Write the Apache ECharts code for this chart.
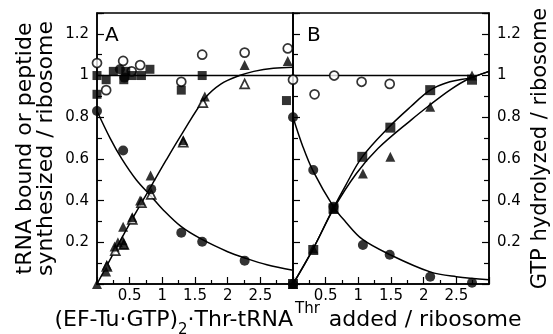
<!DOCTYPE html>
<html>
<head>
<meta charset="utf-8" />
<title>EF-Tu·GTP titration</title>
<script src="https://cdn.jsdelivr.net/npm/echarts@6/dist/echarts.min.js"></script>
<style>
html,body{margin:0;padding:0;background:#fff;}
#chart{width:553px;height:334px;}
</style>
</head>
<body>
<div id="chart"></div>
<script type="text/javascript">
// tick labels
var xTicks = [0.5, 1, 1.5, 2, 2.5];
var yTicks = [0.2, 0.4, 0.6, 0.8, 1, 1.2];

// panel A measured points [x, y]
var aOpenCircle = [[0,1.06],[0.14,0.93],[0.4,1.07],[0.53,1.02],[0.66,1.05],[1.29,0.97],[1.61,1.10],[2.26,1.11],[2.92,1.13]];
var aSquare = [[0,1.0],[0,0.91],[0.14,0.98],[0.25,1.02],[0.41,0.98],[0.44,1.02],[0.54,1.0],[0.68,1.0],[0.81,1.03],[1.29,0.93],[1.61,1.0],[2.9,0.88]];
var aCircle = [[0,0.83],[0.35,1.03],[0.42,0.99],[0.4,0.64],[0.83,0.455],[1.29,0.246],[1.61,0.203],[2.26,0.112]];
var aTriangle = [[0,0],[0.14,0.06],[0.15,0.09],[0.27,0.18],[0.32,0.2],[0.39,0.21],[0.41,0.19],[0.4,0.275],[0.54,0.32],[0.66,0.40],[0.82,0.52],[1.32,0.69],[1.65,0.90],[2.26,1.05],[2.92,1.07]];
var aOpenTriangle = [[0.15,0.085],[0.28,0.16],[0.41,0.19],[0.54,0.31],[0.68,0.39],[0.83,0.43],[1.32,0.68],[1.62,0.87],[2.26,0.96]];
// panel A fitted curves
var aFlat = [[0,1],[3,1]];
var aRise = [[0,0],[0.5,0.29],[0.83,0.47],[1.06,0.595],[1.3,0.72],[1.65,0.89],[1.9,0.96],[2.18,1.0],[2.4,1.02],[2.7,1.035],[3,1.04]];
var aDecay = [[0,0.83],[0.2,0.70],[0.38,0.6],[0.6,0.5],[0.83,0.42],[1.0,0.36],[1.29,0.275],[1.6,0.215],[2.0,0.155],[2.26,0.125],[2.6,0.092],[3,0.066]];

// panel B measured points
var bOpenCircle = [[0,0.98],[0.33,0.91],[0.63,1.0],[1.05,0.97],[1.48,0.96]];
var bSquare = [[0,0],[0.31,0.163],[0.62,0.363],[1.06,0.61],[1.49,0.75],[2.1,0.93],[2.74,0.98]];
var bTriangle = [[0,0],[0.31,0.17],[0.62,0.36],[1.07,0.53],[1.49,0.61],[2.1,0.85],[2.74,1.0]];
var bCircle = [[0,0.8],[0,0],[0.31,0.547],[0.62,0.37],[1.07,0.187],[1.48,0.14],[2.1,0.035],[2.74,0.006]];
// panel B fitted curves
var bFlat = [[0,1],[2.74,1]];
var bRiseSq = [[0,0],[0.31,0.17],[0.62,0.365],[0.8,0.47],[1.06,0.61],[1.46,0.75],[1.8,0.85],[2.1,0.93],[2.4,0.97],[2.72,0.99],[3,1.02]];
var bRiseTri = [[0,0],[0.31,0.17],[0.62,0.36],[0.97,0.53],[1.3,0.65],[1.82,0.79],[2.1,0.86],[2.4,0.93],[2.66,0.98],[3,1.02]];
var bDecay = [[0,0.8],[0.15,0.66],[0.31,0.54],[0.62,0.37],[0.8,0.30],[1.06,0.215],[1.49,0.14],[2.1,0.058],[2.5,0.035],[3,0.02]];

var FONT = 'DejaVu Sans';

function pick(list){
	return function(v){
		for(var i=0;i<list.length;i++){
			if(Math.abs(list[i]-v)<1e-6) return String(list[i]);
		}
		return '';
	};
}

function xAx(gi){
	return {
		gridIndex: gi, type: 'value', min: 0, max: 3, interval: 0.5,
		axisLine: {show: true, lineStyle: {color: '#000', width: 1.5}},
		axisTick: {inside: true, length: 7, lineStyle: {color: '#000', width: 1.2}},
		minorTick: {show: true, splitNumber: 2, length: 4, lineStyle: {color: '#000', width: 1.2}},
		splitLine: {show: false},
		axisLabel: {margin: 5, color: '#000', fontSize: 15, fontFamily: FONT, formatter: pick(xTicks)}
	};
}

function yAx(gi, pos, showLabel){
	return {
		gridIndex: gi, type: 'value', position: pos, min: 0, max: 1.3, interval: 0.2,
		axisLine: {show: true, lineStyle: {color: '#000', width: 1.5}},
		axisTick: {inside: true, length: 7, lineStyle: {color: '#000', width: 1.2}},
		minorTick: {show: true, splitNumber: 2, length: 5, lineStyle: {color: '#000', width: 1.2}},
		splitLine: {show: false},
		axisLabel: {show: showLabel, margin: 8, color: '#000', fontSize: 15, fontFamily: FONT, formatter: pick(yTicks)}
	};
}

function pts(data, gi, symbol, size, open){
	return {
		type: 'scatter', xAxisIndex: gi, yAxisIndex: gi, data: data, symbol: symbol, symbolSize: size,
		clip: false, z: open ? 4 : 5,
		itemStyle: open ? {color: '#fff', borderColor: '#000', borderWidth: 1.7} : {color: '#000'}
	};
}

function curve(data, gi){
	return {
		type: 'line', xAxisIndex: gi, yAxisIndex: gi, data: data, symbol: 'none', smooth: 0.35,
		lineStyle: {color: '#000', width: 1.5}, z: 3
	};
}

var myChart = echarts.init(document.getElementById('chart'), null, {renderer: 'canvas'});
var yA = yAx(0, 'left', true);
yA.name = 'tRNA bound or peptide\nsynthesized / ribosome';
yA.nameLocation = 'middle';
yA.nameRotate = 90;
yA.nameGap = 40;
yA.nameTextStyle = {color: '#000', fontSize: 22, lineHeight: 21, fontFamily: FONT};
var yBr = yAx(1, 'right', true);
yBr.name = 'GTP hydrolyzed / ribosome';
yBr.nameLocation = 'middle';
yBr.nameRotate = 90;
yBr.nameGap = 41;
yBr.nameTextStyle = {color: '#000', fontSize: 21, fontFamily: FONT};

var option = {
	animation: false,
	backgroundColor: '#fff',
	grid: [
		{left: 97, top: 13, width: 196, height: 271, show: true, borderColor: '#000', borderWidth: 1.5},
		{left: 293, top: 13, width: 196, height: 271, show: true, borderColor: '#000', borderWidth: 1.5}
	],
	xAxis: [xAx(0), xAx(1)],
	yAxis: [yA, yAx(1, 'left', false), yBr],
	graphic: [
		{type: 'text', left: 105, top: 26, style: {text: 'A', fontSize: 20, fontFamily: FONT, fill: '#000'}},
		{type: 'text', left: 307, top: 26, style: {text: 'B', fontSize: 20, fontFamily: FONT, fill: '#000'}},
		{type: 'text', x: 288, y: 302, style: {
			text: '{m|(EF-Tu·GTP)}{s|2}{m|·Thr-tRNA}{p|Thr}{m| added / ribosome}',
			align: 'center', verticalAlign: 'top', fill: '#000',
			rich: {
				m: {fontSize: 22, fontFamily: FONT, lineHeight: 36, verticalAlign: 'middle'},
				s: {fontSize: 15, fontFamily: FONT, lineHeight: 20, verticalAlign: 'bottom'},
				p: {fontSize: 15, fontFamily: FONT, lineHeight: 16, verticalAlign: 'top', padding: [0, 2, 0, 2]}
			}
		}}
	],
	series: [
		curve(aFlat, 0), curve(aRise, 0), curve(aDecay, 0),
		pts(aOpenCircle, 0, 'circle', 9, true),
		pts(aSquare, 0, 'rect', 9, false),
		pts(aCircle, 0, 'circle', 10, false),
		pts(aOpenTriangle, 0, 'triangle', 9, true),
		pts(aTriangle, 0, 'triangle', 10, false),
		curve(bFlat, 1), curve(bRiseSq, 1), curve(bRiseTri, 1), curve(bDecay, 1),
		pts(bOpenCircle, 1, 'circle', 9, true),
		pts(bSquare, 1, 'rect', 10, false),
		pts(bTriangle, 1, 'triangle', 10, false),
		pts(bCircle, 1, 'circle', 10, false)
	]
};
myChart.setOption(option);
</script>
</body>
</html>
